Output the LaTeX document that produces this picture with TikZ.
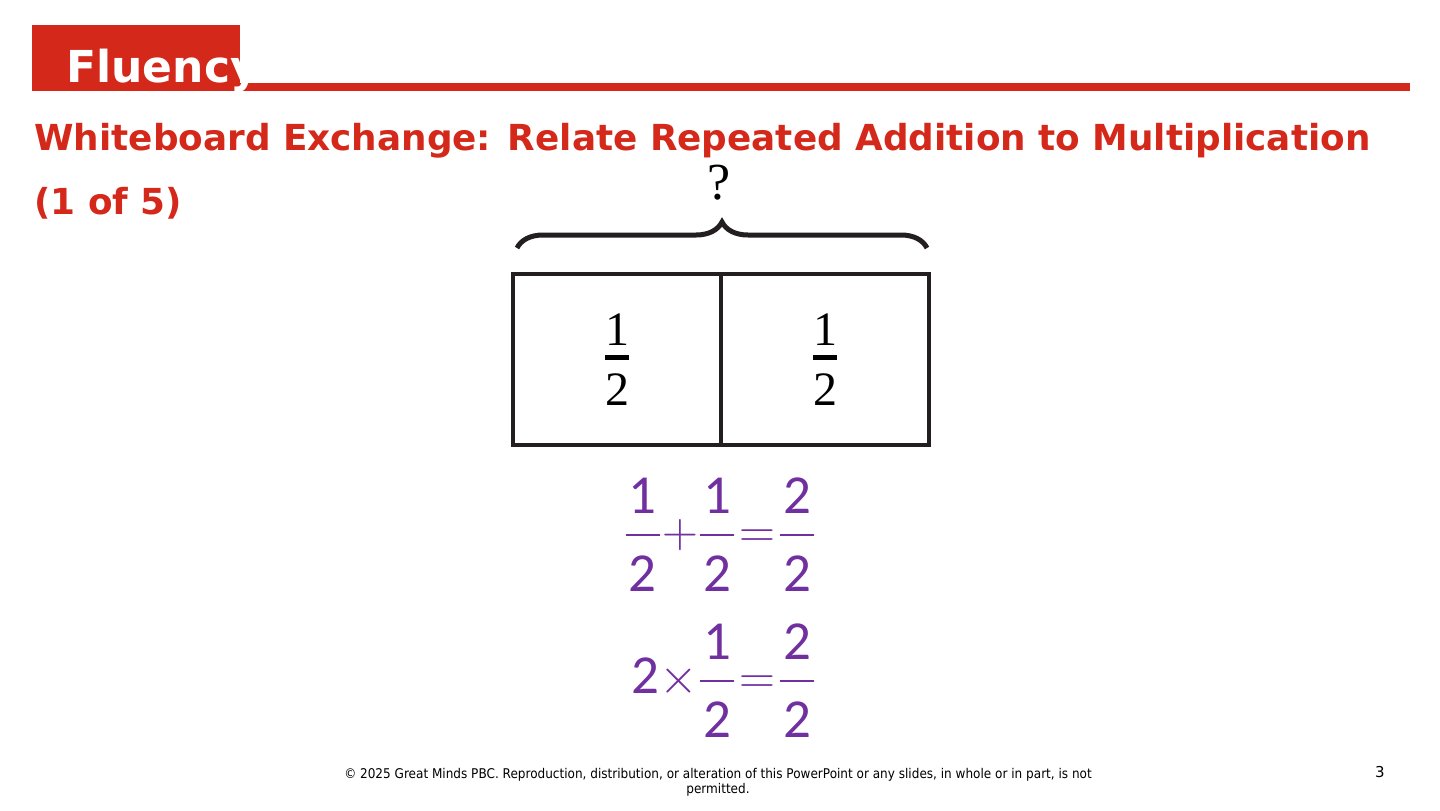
\documentclass[tikz,border=0pt]{standalone}
\usepackage{amsmath}
\usepackage{fontspec}
\setmainfont{DejaVu Sans}
\newfontfamily\cellfont{Liberation Serif}
\newfontfamily\eqfont{Carlito}
\newfontfamily\notefont[FakeStretch=0.9]{DejaVu Sans}
\usetikzlibrary{positioning, decorations.pathreplacing}

\definecolor{gmred}{RGB}{212,41,26}
\definecolor{gmpurple}{RGB}{112,48,160}
\definecolor{inkblack}{RGB}{35,31,32}

% fractions for the tape cells and for the number sentences
\newcommand{\cellfrac}[2]{$\genfrac{}{}{2.5pt}{1}{\hbox{\rule[-2.4pt]{0pt}{0pt}#1}}{\hbox{\rule{0pt}{20pt}#2}}$}
\newcommand{\eqfrac}[2]{\genfrac{}{}{1pt}{0}{\hbox{#1}}{\hbox{\rule{0pt}{25pt}\kern1.5pt#2\kern1.5pt}}}

\begin{document}
\begin{tikzpicture}[x=0.5pt, y=-0.5pt,
  cell/.style={rectangle, draw=inkblack, line width=2pt, outer sep=0pt,
    minimum width=104pt, minimum height=85.5pt, inner sep=0pt,
    font=\cellfont\fontsize{24}{29}\selectfont},
  sentence/.style={anchor=base east, inner sep=0pt, text=gmpurple,
    font=\eqfont\fontsize{27.5}{33}\selectfont,
    execute at begin node={\medmuskip=0mu\thickmuskip=1mu}},
  heading/.style={anchor=base west, inner sep=0pt, text=gmred,
    font=\bfseries\fontsize{17.9}{21}\selectfont},
  brace/.style={decorate, decoration={brace, amplitude=13pt},
    draw=inkblack, line width=2.5pt},
]
\useasboundingbox (0,0) rectangle (1440,810);
% ====== HEADER ======
\fill[gmred] (32,25) rectangle (240,91);
\fill[gmred] (240,83) rectangle (1410,91);
\node[anchor=base west, inner sep=0pt, text=white,
  font=\bfseries\fontsize{22}{26}\selectfont] (tag) at (66,82) {Fluency};
\node[heading] (title) at (34,150)
  {Whiteboard Exchange: Relate Repeated Addition to Multiplication};
\node[heading] (part) at (34,214) {(1 of 5)};
%
% ====== TAPE DIAGRAM ======
\node[cell] (half_a) at (617,359.5) {\cellfrac{1}{2}};
\node[cell, right=0pt of half_a] (half_b) {\cellfrac{1}{2}};
\coordinate (brace_l) at (517,248);
\coordinate (brace_r) at (927,248);
\draw[brace] (brace_l) -- (brace_r);
\node[font=\cellfont\fontsize{26}{30}\selectfont] (whole) at (719,183) {?};
%
% ====== NUMBER SENTENCES ======
\node[sentence] (addition) at (817,547)
  {$\displaystyle\eqfrac{1}{2}+\eqfrac{1}{2}=\eqfrac{2}{2}$};
\node[sentence] (product) at (817,693)
  {$\displaystyle\hbox{2}\times\eqfrac{1}{2}=\eqfrac{2}{2}$};
%
% ====== FOOTER ======
\node[align=center, inner sep=0pt, font=\notefont\fontsize{6.7}{7.5}\selectfont]
  (note) at (718,782)
  {© 2025 Great Minds PBC. Reproduction, distribution, or alteration of this PowerPoint or any slides, in whole or in part, is not\\permitted.};
\node[inner sep=0pt, font=\fontsize{7.5}{9}\selectfont] (page) at (1380,772) {3};
\end{tikzpicture}
\end{document}
